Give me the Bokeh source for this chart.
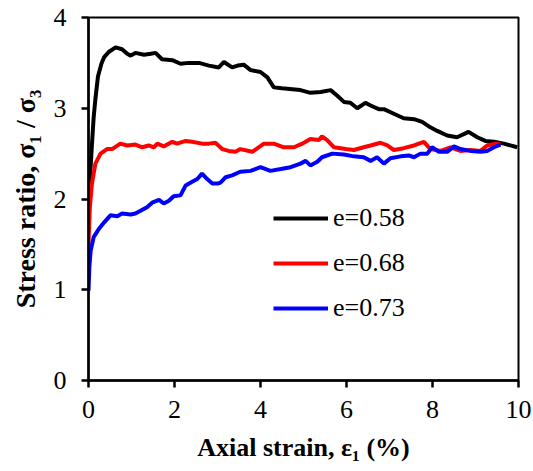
from bokeh.plotting import figure
from bokeh.models import Range1d, Legend, LegendItem, FixedTicker
from bokeh.embed import file_html
from bokeh.resources import INLINE

# e = 0.58
x_058 = [0, 0.03, 0.08, 0.12, 0.16, 0.22, 0.3, 0.36, 0.47, 0.63, 0.78, 0.9, 0.98, 1.09, 1.29, 1.45,
         1.56, 1.71, 1.95, 2.14, 2.33, 2.57, 2.8, 3.03, 3.15, 3.34, 3.47, 3.61, 3.77, 4.0, 4.16, 4.31,
         4.5, 4.74, 4.93, 5.16, 5.4, 5.63, 5.78, 5.94, 6.09, 6.25, 6.44, 6.56, 6.75, 6.87, 7.1, 7.33,
         7.57, 7.76, 7.95, 8.11, 8.34, 8.57, 8.84, 9.04, 9.23, 9.43, 9.66, 9.97]
y_058 = [1.9, 2.2, 2.6, 2.9, 3.1, 3.35, 3.49, 3.56, 3.62, 3.67, 3.65, 3.6, 3.58, 3.61, 3.59, 3.6,
         3.61, 3.54, 3.53, 3.49, 3.5, 3.5, 3.47, 3.45, 3.51, 3.45, 3.47, 3.48, 3.42, 3.4, 3.34, 3.23,
         3.22, 3.21, 3.2, 3.17, 3.18, 3.2, 3.14, 3.07, 3.06, 3.0, 3.06, 3.03, 2.99, 2.99, 2.94, 2.89,
         2.88, 2.85, 2.79, 2.75, 2.7, 2.68, 2.74, 2.68, 2.64, 2.63, 2.61, 2.57]

# e = 0.68
x_068 = [0, 0.03, 0.08, 0.16, 0.28, 0.43, 0.55, 0.74, 0.9, 1.09, 1.25, 1.4, 1.52, 1.6, 1.75, 1.95,
         2.06, 2.26, 2.41, 2.64, 2.8, 2.95, 3.11, 3.26, 3.42, 3.53, 3.81, 4.08, 4.31, 4.54, 4.78, 4.97,
         5.16, 5.36, 5.43, 5.55, 5.71, 5.98, 6.17, 6.4, 6.56, 6.79, 6.95, 7.1, 7.33, 7.57, 7.8, 7.95,
         8.19, 8.42, 8.65, 8.88, 9.12, 9.27, 9.47, 9.58]
y_068 = [1.5, 1.9, 2.17, 2.39, 2.5, 2.55, 2.55, 2.61, 2.59, 2.6, 2.57, 2.59, 2.57, 2.61, 2.58, 2.63,
         2.61, 2.64, 2.63, 2.61, 2.61, 2.62, 2.55, 2.53, 2.52, 2.55, 2.52, 2.61, 2.61, 2.57, 2.57, 2.61,
         2.66, 2.65, 2.69, 2.65, 2.57, 2.55, 2.54, 2.57, 2.59, 2.62, 2.59, 2.54, 2.56, 2.59, 2.63, 2.55,
         2.53, 2.57, 2.53, 2.54, 2.53, 2.59, 2.61, 2.6]

# e = 0.73
x_073 = [0, 0.02, 0.05, 0.12, 0.24, 0.36, 0.51, 0.67, 0.78, 0.98, 1.09, 1.21, 1.36, 1.48, 1.64, 1.75,
         1.87, 1.98, 2.14, 2.26, 2.41, 2.53, 2.64, 2.76, 2.88, 3.0, 3.07, 3.19, 3.34, 3.53, 3.77, 4.0,
         4.23, 4.47, 4.7, 4.93, 5.05, 5.16, 5.32, 5.43, 5.67, 5.94, 6.17, 6.4, 6.56, 6.71, 6.87, 7.02,
         7.26, 7.45, 7.57, 7.72, 7.88, 7.99, 8.15, 8.34, 8.5, 8.65, 8.88, 9.12, 9.27, 9.43, 9.58]
y_073 = [0.99, 1.25, 1.43, 1.58, 1.67, 1.74, 1.82, 1.81, 1.84, 1.83, 1.84, 1.87, 1.91, 1.96, 1.99, 1.95,
         1.98, 2.03, 2.04, 2.15, 2.19, 2.22, 2.28, 2.22, 2.17, 2.17, 2.18, 2.24, 2.26, 2.3, 2.31, 2.35,
         2.31, 2.33, 2.35, 2.39, 2.42, 2.37, 2.41, 2.46, 2.5, 2.49, 2.47, 2.46, 2.42, 2.46, 2.39, 2.45,
         2.47, 2.48, 2.46, 2.5, 2.5, 2.57, 2.52, 2.52, 2.58, 2.55, 2.53, 2.52, 2.53, 2.57, 2.6]

series_labels = ["e=0.58", "e=0.68", "e=0.73"]
series_colors = ["#000000", "#ff0000", "#0000ff"]
x_ticks = [0, 2, 4, 6, 8, 10]
y_ticks = [0, 1, 2, 3, 4]

FONT = "Liberation Serif"

p = figure(width=533, height=471, output_backend="svg", toolbar_location=None,
           x_range=Range1d(0, 10), y_range=Range1d(0, 4),
           min_border_left=88, min_border_right=15, min_border_top=17, min_border_bottom=91)
p.xgrid.visible = False
p.ygrid.visible = False
p.outline_line_color = "black"
p.outline_line_width = 2
p.background_fill_color = "white"
p.border_fill_color = "white"

renderers = []
for xs, ys, c in zip([x_058, x_068, x_073], [y_058, y_068, y_073], series_colors):
    r = p.line(xs, ys, line_color=c, line_width=4)
    renderers.append(r)

for ax in (p.xaxis[0], p.yaxis[0]):
    ax.axis_line_width = 2.5
    ax.major_tick_line_width = 2.5
    ax.major_tick_in = 0
    ax.major_tick_out = 7
    ax.minor_tick_line_color = None
    ax.major_label_text_font = FONT
    ax.major_label_text_font_size = "26px"
    ax.major_label_text_color = "black"
    ax.axis_label_text_font = FONT
    ax.axis_label_text_font_style = "bold"
    ax.axis_label_text_color = "black"

p.xaxis.axis_label_text_font_size = "26px"
p.yaxis.axis_label_text_font_size = "28px"
p.xaxis.ticker = FixedTicker(ticks=x_ticks)
p.yaxis.ticker = FixedTicker(ticks=y_ticks)
p.xaxis.major_label_standoff = 13
p.yaxis.major_label_standoff = 15
p.xaxis.axis_label_standoff = 12
p.yaxis.axis_label_standoff = 10
p.xaxis.axis_label = "Axial strain, \u03b5\u2081 (%)"
p.yaxis.axis_label = "Stress ratio, \u03c3\u2081 / \u03c3\u2083"

legend = Legend(items=[LegendItem(label=l, renderers=[r]) for l, r in zip(series_labels, renderers)],
                location=(185, 57), orientation="vertical",
                glyph_width=55, glyph_height=30, label_height=30, spacing=15,
                label_standoff=5, padding=0, margin=0,
                border_line_color=None, background_fill_alpha=0,
                label_text_font=FONT, label_text_font_size="26px",
                label_text_color="black")
p.add_layout(legend)

open("out.html", "w").write(file_html(p, INLINE))
